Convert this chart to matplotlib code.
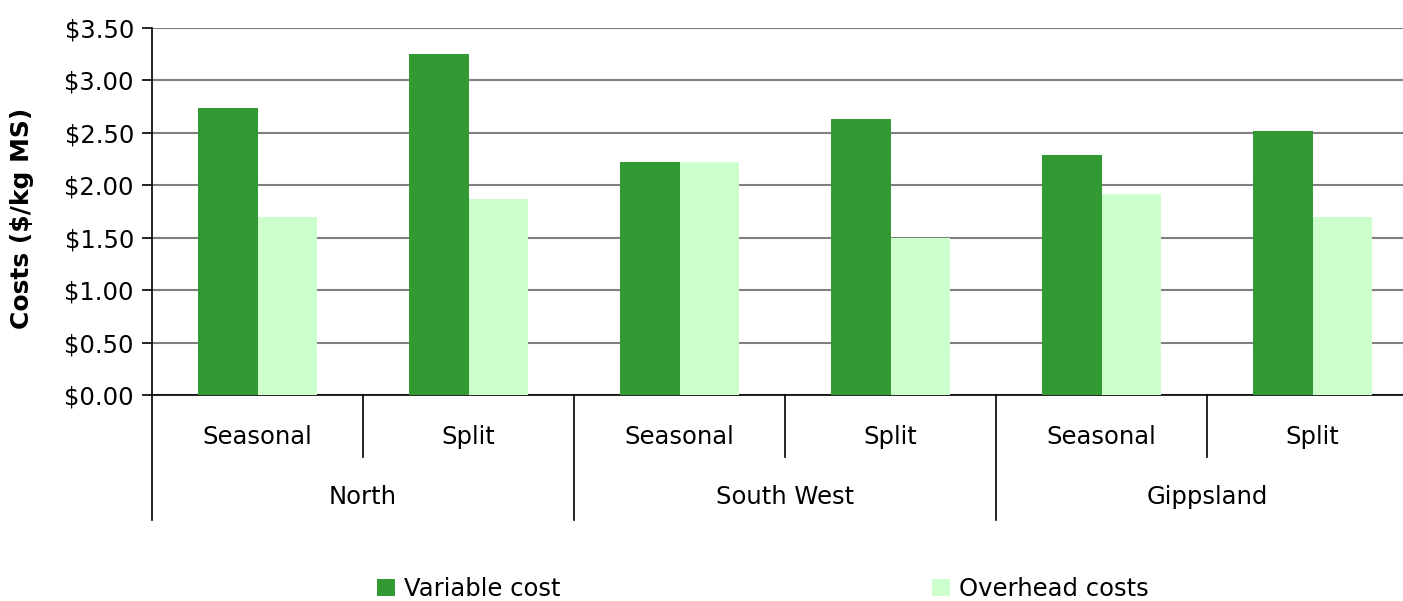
import matplotlib
matplotlib.use("Agg")
import matplotlib.pyplot as plt
import matplotlib.transforms as mtransforms
from matplotlib.patches import Patch
import numpy as np

plt.rcParams['font.family'] = ['DejaVu Sans']

regions = ["North", "South West", "Gippsland"]
systems = ["Seasonal", "Split"]
variable_cost = [2.74, 3.25, 2.22, 2.63, 2.29, 2.52]
overhead_cost = [1.70, 1.87, 2.22, 1.50, 1.92, 1.70]
yticks = [0.0, 0.5, 1.0, 1.5, 2.0, 2.5, 3.0, 3.5]
ytick_labels = ["$0.00", "$0.50", "$1.00", "$1.50", "$2.00", "$2.50", "$3.00", "$3.50"]

W, H = 1403, 601
fig = plt.figure(figsize=(W / 100, H / 100), dpi=100)
left, right, top, bottom = 152, 1418, 28, 395
ax = fig.add_axes([left / W, (H - bottom) / H, (right - left) / W, (bottom - top) / H])

FS = 17.5
x = np.arange(len(variable_cost))
bw = 0.284
ax.bar(x - bw / 2, variable_cost, bw, color="#339933", zorder=3, label="Variable cost")
ax.bar(x + bw / 2, overhead_cost, bw, color="#CCFFCC", zorder=3, label="Overhead costs")

ax.set_xlim(-0.5, len(x) - 0.5)
ax.set_ylim(0, 3.5)
ax.set_yticks(yticks)
ax.set_yticklabels(ytick_labels, fontsize=FS)
ax.yaxis.grid(True, color="#808080", linewidth=1.5, zorder=0)
ax.set_axisbelow(True)
for s in ["top", "right"]:
    ax.spines[s].set_visible(False)
ax.spines["left"].set_color("black")
ax.spines["bottom"].set_color("black")
ax.spines["left"].set_linewidth(1.2)
ax.spines["bottom"].set_linewidth(1.2)
ax.tick_params(axis="y", length=7, width=1.2, color="black", pad=6)
ax.set_xticks([])
fig.text(22 / W, (H - 218) / H, "Costs ($/kg MS)", rotation=90, ha="center", va="center",
         fontsize=18, fontweight="bold")

ah = bottom - top
trans = mtransforms.blended_transform_factory(ax.transData, ax.transAxes)
# sub-category labels and separators
for i in range(len(x)):
    ax.text(x[i], -42 / ah, systems[i % 2], transform=trans, ha="center", va="center", fontsize=FS)
for b in [0.5, 2.5, 4.5]:
    ax.plot([b, b], [0, -62 / ah], transform=trans, color="black", lw=1.2, clip_on=False)
for b in [-0.5, 1.5, 3.5, 5.5]:
    ax.plot([b, b], [0, -125 / ah], transform=trans, color="black", lw=1.2, clip_on=False)
for j, r in enumerate(regions):
    ax.text(2 * j + 0.5, -102 / ah, r, transform=trans, ha="center", va="center", fontsize=FS)

handles = [Patch(facecolor="#339933", edgecolor="none", label="Variable cost"),
           Patch(facecolor="#CCFFCC", edgecolor="none", label="Overhead costs")]
fig.legend(handles=handles, ncol=2, loc="center left", bbox_to_anchor=(377 / W, (H - 589) / H),
           frameon=False, fontsize=FS, handlelength=0.75, handleheight=0.75,
           handletextpad=0.35, columnspacing=15.3, borderaxespad=0, borderpad=0)

fig.savefig("out.png", dpi=100)
